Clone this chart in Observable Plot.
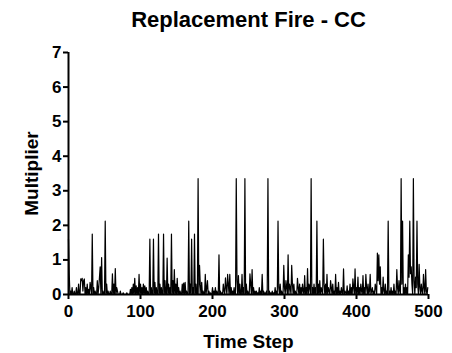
<!DOCTYPE html>
<html>
<head>
<meta charset="utf-8">
<script src="https://cdn.jsdelivr.net/npm/d3@7"></script>
<script src="https://cdn.jsdelivr.net/npm/@observablehq/plot@0.6"></script>
<style>
  html, body { margin: 0; padding: 0; background: white; }
</style>
</head>
<body>
<div id="chart"></div>
<script>
const title = "Replacement Fire - CC";
const xLabel = "Time Step";
const yLabel = "Multiplier";
const xTicks = [0, 100, 200, 300, 400, 500];
const yTicks = [0, 1, 2, 3, 4, 5, 6, 7];

// Multiplier value at each time step 0..499
const multiplier = [
  1.6,0.6,0,0.1,0,0.2,0,0,0.1,0,
  0,0.2,0,0,0.3,0,0,0.45,0.4,0.47,
  0.1,0.4,0.45,0,0.2,0,0.3,0,0.15,0,
  0.35,0.2,0,1.75,0,0.2,0,0.1,0,0,
  0.4,0,0.2,0.5,0.8,0,1.07,0,0.1,0,
  0,2.12,0,0.3,0,0.1,0,0,0.1,0,
  0,0.6,0,0.3,0,0.75,0,0.2,0.1,0,
  0,0,0.1,0,0,0,0.05,0,0,0,
  0,0.05,0,0,0,0,0.15,0,0.2,0,
  0.3,0,0.47,0,0.25,0,0.2,0,0.58,0,
  0.3,0,0.2,0,0.3,0,0.25,0,0.2,0,
  0.1,0,0,1.6,0,0.2,0,0,1.6,0,
  0.35,0,0.2,0,0,1.75,0,0.3,0,0.2,
  0,0,1.75,0,0.4,0,0,1.05,0,0.3,
  0,0.2,0,1.75,0,0.4,0,0.72,0,0.3,
  0,0.47,0,0.2,0,0.1,0,0,0.3,0,
  0.33,0,0.35,0,0.1,0,0,2.12,0,0.3,
  0,1.6,0,0.2,0,1.75,0,0.3,0,0,
  3.35,0,0.84,0.3,0,0.35,0,0.1,0,0,
  0.58,0,0.2,0.4,0,0.1,0,0.05,0,0,
  0.2,0,0.1,0,0.2,0,0.1,0,0,1.15,
  0,0.1,0,0.05,0,0.3,0.1,0,0.48,0.2,
  0,0.58,0.3,0,0.58,0,0.2,0,0.1,0,
  0.2,0,0,3.35,0.4,0,0.55,0,0.3,0,
  0,0.58,0,0.2,0,3.35,0,0.3,0,0.1,
  0,0,0.6,0.3,0,0.72,0,0.2,0,0.1,
  0,0.1,0,0.05,0,0.2,0,0.1,0,0.58,
  0,0.1,0,0.05,0,0.1,0,3.35,0,0.1,
  0,0.05,0,0.1,0,0.05,0,0.2,0,0.1,
  0,2.12,0.2,0,0.3,0,0.1,0,0,0.84,
  0.2,0,0.4,0.2,0,1.15,0,0.3,0.2,0,
  0.84,0.3,0,0.3,0,0.1,0,0,0.47,0.2,
  0,0.3,0,0.2,0,0.3,0.1,0,0.55,0,
  0.2,0,0.75,0,0.3,0.2,0,3.35,0,0.2,
  0,0.3,0,0.2,0,2.12,0,0.3,0,0.4,
  0,0.2,0.1,0,1.6,0.3,0,0.3,0,0.58,
  0,0.2,0.1,0,0.4,0.2,0,0.3,0,0.1,
  0,0.58,0,0.2,0,0.35,0,0.1,0,0.2,
  0.05,0,0.74,0,0.1,0.05,0,0.25,0,0.1,
  0,0.3,0,0.2,0,0.45,0.2,0,0.74,0,
  0.2,0,0.5,0,0.2,0,0.3,0.1,0,0.55,
  0,0.2,0,0.58,0.2,0,0.3,0,0.1,0.58,
  0,0.1,0.2,0,0.1,0,0.3,0.2,0,1.2,
  0.4,1.15,0.3,0.8,0,0.2,0,0.5,0.1,0,
  0.3,0,0.1,0,2.12,0,0.1,0,0.2,0,
  0.1,0,0.3,0,0.1,0,0.72,0.2,0,0.4,
  0.1,0,3.35,0.3,2.12,0,0.2,0,0.3,0,
  0.2,0,1.15,0.5,2.12,0.6,0.8,0.3,0,3.35,
  0.4,0,0.5,0.2,2.12,0.3,0,0.87,0.2,0,
  0.3,0.1,0,0.58,0.2,0,0.72,0.1,0,0.2
];

const data = multiplier.map((v, i) => ({step: i, value: v}));

const chart = Plot.plot({
  width: 452,
  height: 353,
  marginLeft: 68,
  marginRight: 24,
  marginTop: 52,
  marginBottom: 59,
  style: {
    fontFamily: "'Liberation Sans', Arial, sans-serif",
    fontWeight: "bold",
    fontSize: "17px",
    color: "black",
    background: "white",
    overflow: "visible"
  },
  x: {domain: [0, 500]},
  y: {domain: [0, 7]},
  marks: [
    Plot.line(data, {x: "step", y: "value", stroke: "black", strokeWidth: 1.2}),
    Plot.axisX({ticks: xTicks, tickFormat: "d", tickSize: 5, tickPadding: 5, strokeWidth: 2, label: null, fontSize: 17, fontWeight: "bold"}),
    Plot.axisY({ticks: yTicks, tickFormat: "d", tickSize: 5, tickPadding: 2, strokeWidth: 2, label: null, fontSize: 17, fontWeight: "bold"}),
    Plot.ruleY([0], {stroke: "black", strokeWidth: 2}),
    Plot.ruleX([0], {stroke: "black", strokeWidth: 2}),
    Plot.text([xLabel], {frameAnchor: "bottom", dy: 53, fontSize: 19, fontWeight: "bold", fill: "black"}),
    Plot.text([yLabel], {frameAnchor: "left", textAnchor: "middle", dx: -37, rotate: -90, fontSize: 19, fontWeight: "bold", fill: "black"}),
    Plot.text([title], {frameAnchor: "top", dy: -41, fontSize: 22, fontWeight: "bold", fill: "black"})
  ]
});
document.getElementById("chart").appendChild(chart);
</script>
</body>
</html>
